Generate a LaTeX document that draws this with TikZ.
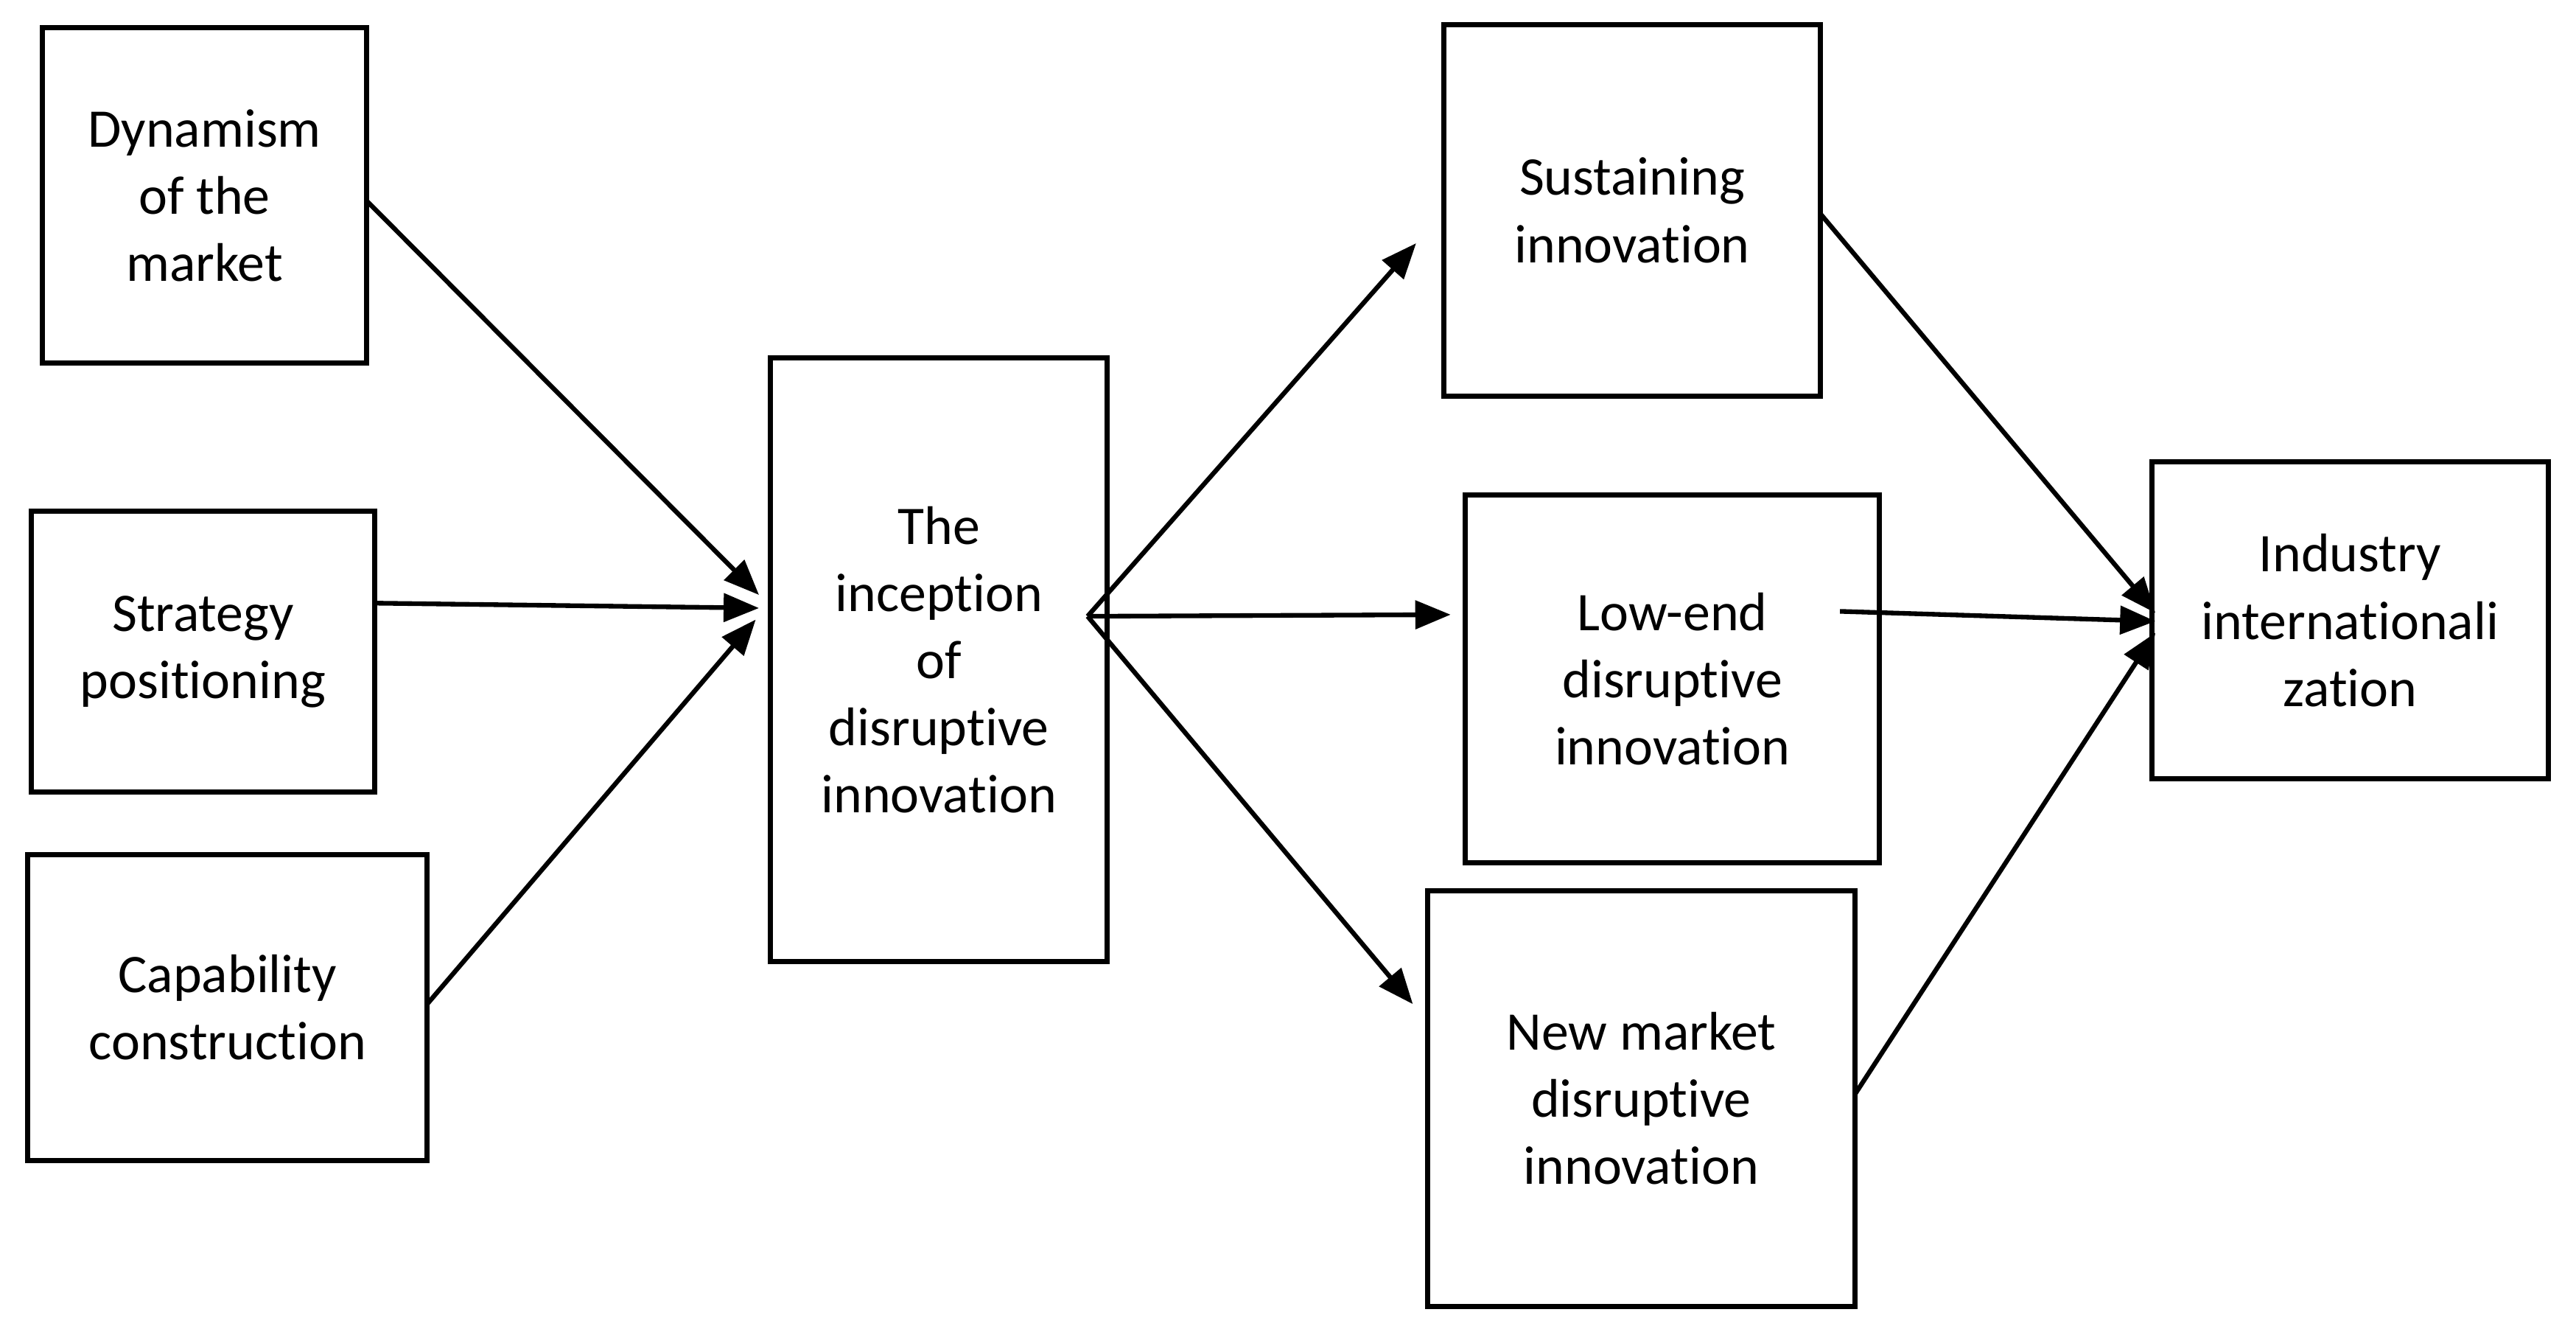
\documentclass[tikz,border=0pt]{standalone}
\usepackage{fontspec}
\setmainfont{Carlito}[Ligatures=NoCommon]
\usetikzlibrary{arrows.meta}
\begin{document}
\begin{tikzpicture}[x=0.022296cm, y=-0.022296cm,
  box/.style={draw=black, line width=2pt, rectangle, inner sep=0pt, align=center,
    font=\fontsize{21}{25.9}\selectfont},
  conn/.style={line width=1.8pt, -{Triangle[length=0.48cm, width=0.38cm]}}]
\useasboundingbox (0,0) rectangle (1568,817);
\node[box, minimum width=4.392cm, minimum height=4.548cm] (dyn) at (124.5,119) {Dynamism\\of the\\market};
\node[box, minimum width=4.660cm, minimum height=3.813cm] (str) at (123.5,396.5) {Strategy\\positioning};
\node[box, minimum width=5.418cm, minimum height=4.147cm] (cap) at (138.5,613) {Capability\\construction};
\node[box, minimum width=4.571cm, minimum height=8.183cm] (inc) at (571.5,401.5) {The\\inception\\of\\disruptive\\innovation};
\node[box, minimum width=5.106cm, minimum height=5.039cm] (sus) at (993.5,128) {Sustaining\\innovation};
\node[box, minimum width=5.619cm, minimum height=4.994cm] (low) at (1018,413) {Low-end\\disruptive\\innovation};
\node[box, minimum width=5.797cm, minimum height=5.641cm] (nm) at (999,668.5) {New market\\disruptive\\innovation};
\node[box, minimum width=5.373cm, minimum height=4.303cm] (ind) at (1430.5,377.5) {Industry\\internationali\\zation};
% connector ends
\coordinate (dynS) at (223,122);
\coordinate (strS) at (228,367);
\coordinate (capS) at (260,611);
\coordinate (incT1) at (462,362);
\coordinate (incT2) at (462,370);
\coordinate (incT3) at (460,377);
\coordinate (incS) at (662,375);
\coordinate (susT) at (862,148);
\coordinate (lowT) at (883,374);
\coordinate (nmT) at (860,611);
\coordinate (susS) at (1108,130);
\coordinate (lowS) at (1120,372);
\coordinate (nmS) at (1129,666);
\coordinate (indT1) at (1312,373);
\coordinate (indT2) at (1312,378);
\coordinate (indT3) at (1312,385);
\draw[conn] (dynS) -- (incT1);
\draw[conn] (strS) -- (incT2);
\draw[conn] (capS) -- (incT3);
\draw[conn] (incS) -- (susT);
\draw[conn] (incS) -- (lowT);
\draw[conn] (incS) -- (nmT);
\draw[conn] (susS) -- (indT1);
\draw[conn] (lowS) -- (indT2);
\draw[conn] (nmS) -- (indT3);
\end{tikzpicture}
\end{document}
